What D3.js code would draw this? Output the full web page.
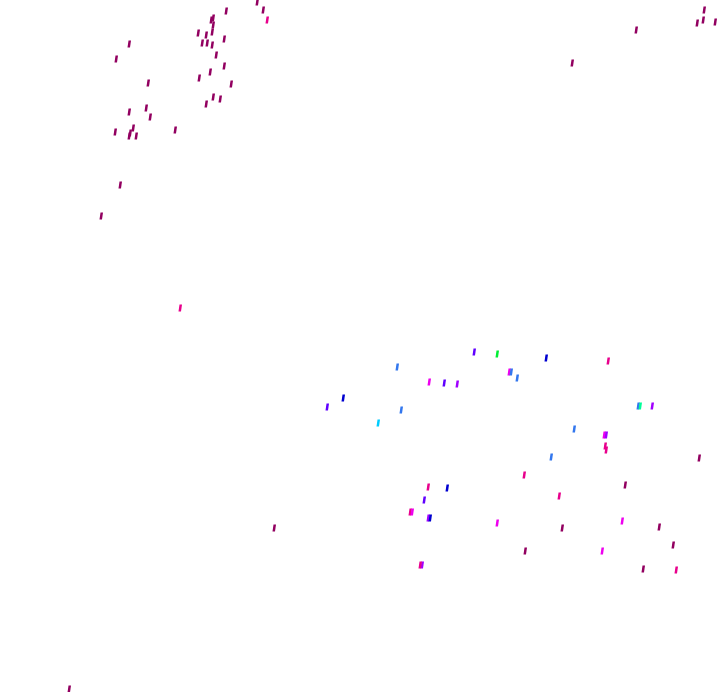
<!DOCTYPE html>
<head>
    <meta charset="utf-8">
    <title>Scatter of tiny marks</title>
    <style>
        body { margin: 0; background: #fff; }
    </style>
</head>

<body>

<svg width="720" height="692"></svg>

<script src="https://d3js.org/d3.v7.min.js"></script>

<script>

    // x / y values of every mark, and the group used for its colour
    var xs = [257, 263, 267, 226, 213, 211, 213, 212, 198, 206, 202, 207, 212, 224, 216, 224, 210, 199, 231, 213,
              220, 206, 129, 116, 148, 129, 146, 150, 115, 133, 130, 129, 136, 175, 120, 101, 180, 274, 69,
              636, 572, 697, 704, 703, 715,
              474, 497, 397, 509, 511, 517, 429, 444, 457, 343, 327, 401, 378, 546, 608, 638, 640, 652, 574, 604,
              606, 605, 606, 551, 699, 524, 625, 428, 447, 559, 424, 410, 412, 428, 430, 497, 622, 562, 659, 525,
              602, 673, 422, 420, 643, 676];
    var ys = [2, 10, 20, 11, 18, 20, 25, 32, 33, 35, 43, 43, 45, 39, 55, 66, 72, 78, 84, 97,
              99, 104, 44, 59, 83, 112, 108, 117, 132, 128, 133, 136, 136, 130, 185, 216, 308, 528, 689,
              30, 63, 23, 10, 20, 22,
              352, 354, 367, 372, 372, 378, 382, 383, 384, 398, 407, 410, 423, 358, 361, 406, 406, 406, 429, 435,
              435, 446, 450, 457, 458, 475, 485, 487, 488, 496, 500, 512, 512, 518, 518, 523, 521, 528, 527, 551,
              551, 545, 565, 565, 569, 570];
    var groups = [0, 0, 1, 0, 0, 0, 0, 0, 0, 0, 0, 0, 0, 0, 0, 0, 0, 0, 0, 0,
                  0, 0, 0, 0, 0, 0, 0, 0, 0, 0, 0, 0, 0, 0, 0, 0, 1, 0, 0,
                  0, 0, 0, 0, 0, 0,
                  4, 9, 6, 2, 6, 6, 2, 4, 3, 5, 4, 6, 7, 5, 1, 6, 8, 3, 6, 2,
                  3, 1, 1, 6, 0, 1, 0, 1, 5, 1, 4, 1, 2, 3, 5, 2, 2, 0, 0, 0,
                  2, 0, 3, 1, 0, 1];
    var groupColors = ["#920060", "#e8008c", "#ee00ee", "#a000ff", "#6000ff",
                       "#0000d0", "#3377ee", "#00ccff", "#00ff99", "#00ee33"];

    var svg = d3.select("svg"),
        width = +svg.attr("width"),
        height = +svg.attr("height");

    var data = xs.map(function(x, i) { return {x: x, y: ys[i], g: groups[i]}; });

    var x = d3.scaleLinear().domain([0, 720]).range([0, width]),
        y = d3.scaleLinear().domain([0, 692]).range([0, height]),
        z = d3.scaleOrdinal().domain(d3.range(groupColors.length)).range(groupColors);

    // each mark is a small slanted stroke, a bit wider than a hairline
    function mark(d) {
        var cx = x(d.x), cy = y(d.y);
        return "M" + (cx - 1.5) + "," + (cy + 3.5) +
               "L" + (cx + 1) + "," + (cy + 3.5) +
               "L" + (cx + 2) + "," + (cy - 3.5) +
               "L" + (cx - 0.5) + "," + (cy - 3.5) + "Z";
    }

    svg.append("g")
        .selectAll("path")
        .data(data)
        .enter().append("path")
        .attr("d", mark)
        .style("fill", function(d) { return z(d.g); });

</script>

</body>
